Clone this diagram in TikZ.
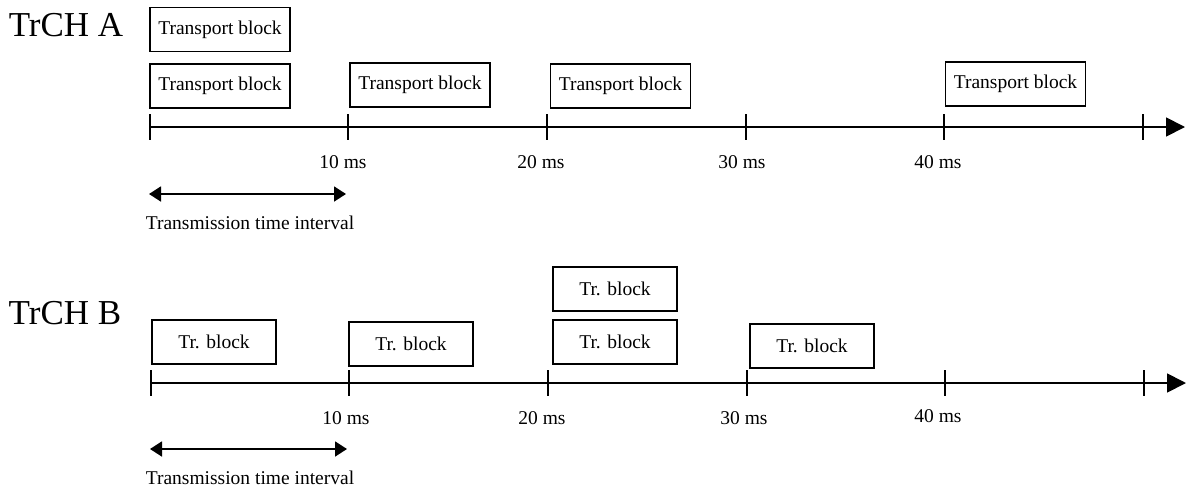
\documentclass[tikz,border=0pt]{standalone}
\usepackage{fontspec}
\setmainfont{Liberation Serif}
\usetikzlibrary{arrows.meta}

\begin{document}
\begin{tikzpicture}[
x=1pt, y=-1pt,
every node/.style={font=\fontsize{19.5}{22}\selectfont, inner sep=0pt},
block/.style={draw, line width=1.6pt, minimum height=44pt},
longblock/.style={block, minimum width=140pt},
shortblock/.style={block, minimum width=124pt},
chan/.style={font=\fontsize{35}{40}\selectfont},
axis/.style={-{Triangle[length=19pt, width=19pt]}, line width=1.8pt},
tickmark/.style={line width=1.8pt},
interval/.style={{Triangle[length=12pt, width=15pt]}-{Triangle[length=12pt, width=15pt]}, line width=1.8pt}
]
\useasboundingbox (0,0) rectangle (1186,493);

% TrCH A
\node (chA) [chan] at (66,25) {TrCH A};

\node (a1) [longblock] at (220,29.5) {Transport block};
\node (a2) [longblock] at (220,86) {Transport block};
\node (a3) [longblock] at (420,85) {Transport block};
\node (a4) [longblock] at (620.5,86) {Transport block};
\node (a5) [longblock] at (1015.5,84) {Transport block};

\coordinate (ta0) at (150,127);
\coordinate (ta1) at (348,127);
\coordinate (ta2) at (547,127);
\coordinate (ta3) at (746,127);
\coordinate (ta4) at (944,127);
\coordinate (ta5) at (1143,127);
\coordinate (aend) at (1185,127);

\draw[axis] (ta0) -- (aend);
\draw[tickmark] ([yshift=13pt]ta0) -- ([yshift=-13pt]ta0);
\draw[tickmark] ([yshift=13pt]ta1) -- ([yshift=-13pt]ta1);
\draw[tickmark] ([yshift=13pt]ta2) -- ([yshift=-13pt]ta2);
\draw[tickmark] ([yshift=13pt]ta3) -- ([yshift=-13pt]ta3);
\draw[tickmark] ([yshift=13pt]ta4) -- ([yshift=-13pt]ta4);
\draw[tickmark] ([yshift=13pt]ta5) -- ([yshift=-13pt]ta5);

\node (la1) at (343,162) {10 ms};
\node (la2) at (541,162) {20 ms};
\node (la3) at (742,162) {30 ms};
\node (la4) at (938,162) {40 ms};

\coordinate (ia0) at (149,194);
\coordinate (ia1) at (346,194);
\draw[interval] (ia0) -- (ia1);
\node (tA) at (250,223) {Transmission time interval};

% TrCH B
\node (chB) [chan] at (65,313) {TrCH B};

\node (b1) [shortblock] at (214,342) {Tr. block};
\node (b2) [shortblock] at (411,344) {Tr. block};
\node (b3) [shortblock] at (615,289) {Tr. block};
\node (b4) [shortblock] at (615,342) {Tr. block};
\node (b5) [shortblock] at (812,346) {Tr. block};

\coordinate (tb0) at (151,383);
\coordinate (tb1) at (349,383);
\coordinate (tb2) at (548,383);
\coordinate (tb3) at (747,383);
\coordinate (tb4) at (945,383);
\coordinate (tb5) at (1144,383);
\coordinate (bend) at (1186,383);

\draw[axis] (tb0) -- (bend);
\draw[tickmark] ([yshift=13pt]tb0) -- ([yshift=-13pt]tb0);
\draw[tickmark] ([yshift=13pt]tb1) -- ([yshift=-13pt]tb1);
\draw[tickmark] ([yshift=13pt]tb2) -- ([yshift=-13pt]tb2);
\draw[tickmark] ([yshift=13pt]tb3) -- ([yshift=-13pt]tb3);
\draw[tickmark] ([yshift=13pt]tb4) -- ([yshift=-13pt]tb4);
\draw[tickmark] ([yshift=13pt]tb5) -- ([yshift=-13pt]tb5);

\node (lb1) at (346,418) {10 ms};
\node (lb2) at (542,418) {20 ms};
\node (lb3) at (744,418) {30 ms};
\node (lb4) at (938,416) {40 ms};

\coordinate (ib0) at (150,449);
\coordinate (ib1) at (347,449);
\draw[interval] (ib0) -- (ib1);
\node (tB) at (250,478) {Transmission time interval};

\end{tikzpicture}
\end{document}
